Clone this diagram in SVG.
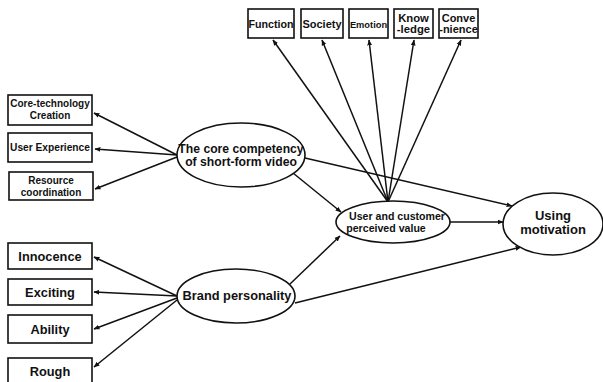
<svg xmlns="http://www.w3.org/2000/svg" width="603" height="382" viewBox="0 0 603 382">
<style>
.b{fill:#fff;stroke:#111;stroke-width:1.6}
.t{font-family:"Liberation Sans",Arial,sans-serif;font-weight:bold;fill:#111;text-anchor:middle}
.c{stroke:#111;stroke-width:1.5;fill:none;marker-end:url(#a)}
</style>
<defs><marker id="a" viewBox="0 0 10 10" refX="9" refY="5" markerWidth="6" markerHeight="6" orient="auto" markerUnits="userSpaceOnUse"><path d="M0,1 L10,5 L0,9 z" fill="#111"/></marker></defs>
<rect width="603" height="382" fill="#fff"/>
<g id="connectors">
<line class="c" x1="177" y1="155" x2="94" y2="113"/>
<line class="c" x1="177" y1="155" x2="95" y2="149"/>
<line class="c" x1="177" y1="157" x2="95" y2="189"/>
<line class="c" x1="293" y1="173" x2="341" y2="212"/>
<line class="c" x1="305" y1="158" x2="512" y2="206"/>
<line class="c" x1="388" y1="202" x2="273" y2="40"/>
<line class="c" x1="388" y1="202" x2="322" y2="40"/>
<line class="c" x1="388" y1="202" x2="369" y2="40"/>
<line class="c" x1="388" y1="202" x2="414" y2="40"/>
<line class="c" x1="388" y1="202" x2="461" y2="40"/>
<line class="c" x1="177" y1="296" x2="94" y2="257"/>
<line class="c" x1="177" y1="296" x2="94" y2="292"/>
<line class="c" x1="177" y1="298" x2="94" y2="329"/>
<line class="c" x1="177" y1="300" x2="94" y2="367"/>
<line class="c" x1="290" y1="284" x2="340" y2="236"/>
<line class="c" x1="295" y1="303" x2="521" y2="247"/>
<line class="c" x1="450" y1="222" x2="503" y2="222"/>
</g>
<g id="function"><rect class="b" x="248" y="9" width="46" height="29"/><text class="t" x="271" y="28" font-size="10.7">Function</text></g>
<g id="society"><rect class="b" x="301" y="9" width="42" height="29"/><text class="t" x="322" y="28" font-size="11">Society</text></g>
<g id="emotion"><rect class="b" x="349" y="9" width="39" height="29"/><text class="t" x="368.5" y="28" font-size="9.3">Emotion</text></g>
<g id="knowledge"><rect class="b" x="394" y="9" width="39" height="29"/><text class="t" x="413.5" y="22" font-size="11.3">Know</text><text class="t" x="413.5" y="33" font-size="11.3">-ledge</text></g>
<g id="convenience"><rect class="b" x="439" y="9" width="39" height="29"/><text class="t" x="458.5" y="22" font-size="11">Conve</text><text class="t" x="458.5" y="33" font-size="11">-nience</text></g>
<g id="coretech"><rect class="b" x="8" y="95" width="84" height="30"/><text class="t" x="50" y="107" font-size="10">Core-technology</text><text class="t" x="50" y="119" font-size="10">Creation</text></g>
<g id="userexp"><rect class="b" x="8" y="133" width="84" height="29"/><text class="t" x="50" y="151" font-size="10.2">User Experience</text></g>
<g id="resource"><rect class="b" x="9" y="172" width="84" height="28"/><text class="t" x="51" y="184" font-size="10">Resource</text><text class="t" x="51" y="196" font-size="10">coordination</text></g>
<g id="core"><ellipse class="b" cx="241" cy="155" rx="64" ry="32"/><text class="t" x="241" y="153" font-size="12.2">The core competency</text><text class="t" x="241" y="166" font-size="12.2">of short-form video</text></g>
<g id="innocence"><rect class="b" x="8" y="243" width="84" height="26"/><text class="t" x="50" y="261" font-size="12.8">Innocence</text></g>
<g id="exciting"><rect class="b" x="8" y="279" width="84" height="26"/><text class="t" x="50" y="297" font-size="12.8">Exciting</text></g>
<g id="ability"><rect class="b" x="8" y="315" width="84" height="28"/><text class="t" x="50" y="334" font-size="12.8">Ability</text></g>
<g id="rough"><rect class="b" x="8" y="358" width="84" height="30"/><text class="t" x="50" y="376" font-size="12.8">Rough</text></g>
<g id="brand"><ellipse class="b" cx="236" cy="296" rx="59" ry="27"/><text class="t" x="237" y="300" font-size="12.8">Brand personality</text></g>
<g id="uservalue"><ellipse class="b" cx="393" cy="222" rx="57" ry="21"/><text class="t" x="397" y="220" font-size="10.6">User and customer</text><text class="t" x="386" y="232" font-size="10.6">perceived value</text></g>
<g id="using"><ellipse class="b" cx="553" cy="224" rx="50" ry="31"/><text class="t" x="553" y="220" font-size="13">Using</text><text class="t" x="553" y="234" font-size="13">motivation</text></g>
</svg>
